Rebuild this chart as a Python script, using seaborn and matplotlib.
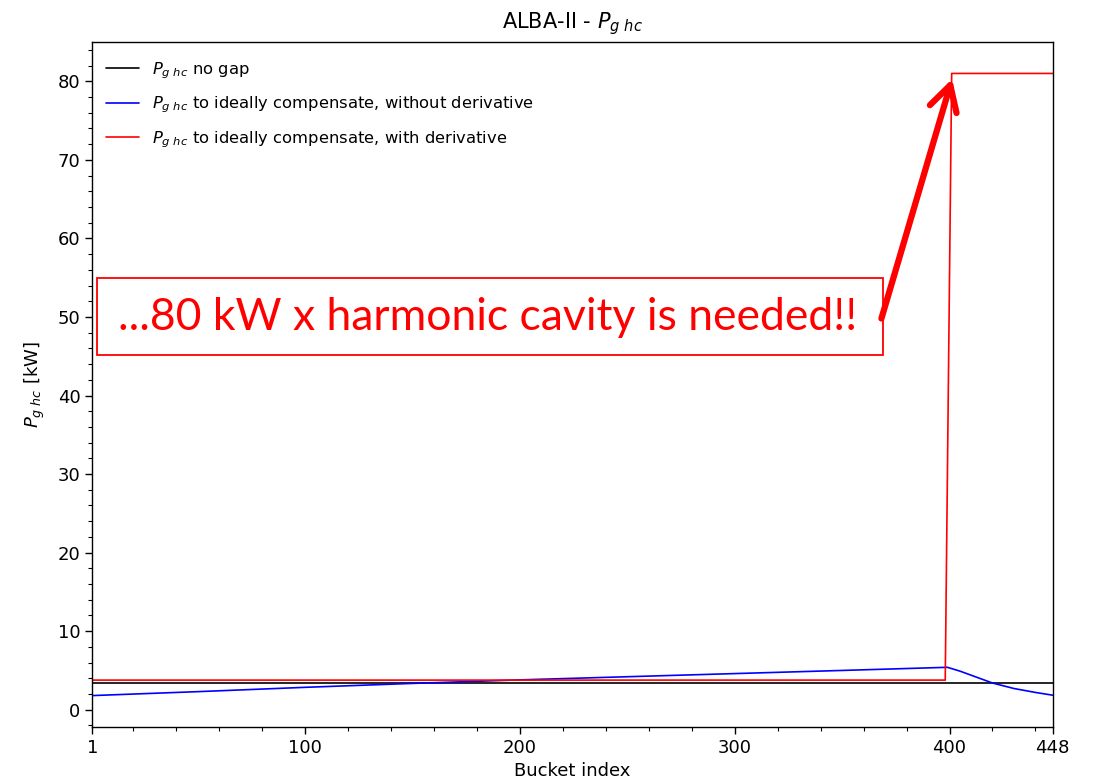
import numpy as np
import pandas as pd
import seaborn as sns
import matplotlib
matplotlib.use("Agg")
import matplotlib.pyplot as plt
from matplotlib.ticker import MultipleLocator, FixedLocator
from matplotlib.patches import Rectangle

# Generator power per bucket (kW)
no_gap_x = [1, 448]
no_gap_y = [3.38, 3.38]

no_deriv_x = [1, 50, 100, 150, 200, 250, 300, 350, 399, 405, 410, 415, 420, 430, 440, 448]
no_deriv_y = [1.80, 2.30, 2.85, 3.35, 3.80, 4.20, 4.60, 5.00, 5.40, 4.90, 4.40, 3.90, 3.40, 2.70, 2.20, 1.85]

with_deriv_x = [1, 398, 401, 448]
with_deriv_y = [3.77, 3.77, 81.0, 81.0]

series_labels = [
    r"$P_{g\ hc}$ no gap",
    r"$P_{g\ hc}$ to ideally compensate, without derivative",
    r"$P_{g\ hc}$ to ideally compensate, with derivative",
]
series_colors = ["black", "blue", "red"]

x_ticks = [1, 100, 200, 300, 400, 448]
y_ticks = [0, 10, 20, 30, 40, 50, 60, 70, 80]

frames = []
for lab, xs, ys in zip(series_labels,
                       [no_gap_x, no_deriv_x, with_deriv_x],
                       [no_gap_y, no_deriv_y, with_deriv_y]):
    frames.append(pd.DataFrame({"bucket": xs, "power": ys, "series": lab}))
df = pd.concat(frames, ignore_index=True)

sns.set_style("ticks", {"text.color": "black", "axes.labelcolor": "black",
                        "xtick.color": "black", "ytick.color": "black",
                        "axes.edgecolor": "black"})
plt.rcParams["font.family"] = ["DejaVu Sans"]

fig = plt.figure(figsize=(10.94, 7.84), dpi=100)
ax = fig.add_axes([0.0844, 0.0727, 0.8778, 0.8737])

sns.lineplot(data=df, x="bucket", y="power", hue="series",
             palette=dict(zip(series_labels, series_colors)),
             hue_order=series_labels, sort=False, estimator=None,
             linewidth=1.2, ax=ax)

ax.set_xlim(1, 448)
ax.set_ylim(-2.2, 85.0)
ax.xaxis.set_major_locator(FixedLocator(x_ticks))
ax.xaxis.set_minor_locator(MultipleLocator(20))
ax.yaxis.set_major_locator(FixedLocator(y_ticks))
ax.yaxis.set_minor_locator(MultipleLocator(2))
ax.tick_params(which="major", direction="out", length=5, width=1, labelsize=13, colors="black")
ax.tick_params(which="minor", direction="out", length=3, width=0.8)
for s in ax.spines.values():
    s.set_color("black")
    s.set_linewidth(1.0)

ax.set_title(r"ALBA-II - $P_{g\ hc}$", fontsize=15, pad=10)
ax.set_xlabel("Bucket index", fontsize=13, labelpad=4)
ax.set_ylabel(r"$P_{g\ hc}$ [kW]", fontsize=13, labelpad=8)

ax.legend(loc="upper left", bbox_to_anchor=(0.001, 0.993), frameon=False,
          fontsize=11.8, labelspacing=0.85, handlelength=2.0, borderaxespad=0.4)

# Callout box with arrow
ax.add_patch(Rectangle((0.005, 0.543), 0.818, 0.112, transform=ax.transAxes,
                       fill=False, edgecolor="red", linewidth=1.3, zorder=5))
ax.text(0.412, 0.598, "...80 kW x harmonic cavity is needed!!",
        transform=ax.transAxes, ha="center", va="center",
        fontsize=32, color="red", family="Lato", zorder=6)
ax.annotate("", xy=(401.2, 80.3), xytext=(368.3, 49.8),
            xycoords="data", textcoords="data",
            arrowprops=dict(arrowstyle="->,head_length=0.9,head_width=0.5",
                            color="red", lw=4.5, mutation_scale=20,
                            shrinkA=0, shrinkB=0), zorder=6)

fig.savefig("out.png", dpi=100)
